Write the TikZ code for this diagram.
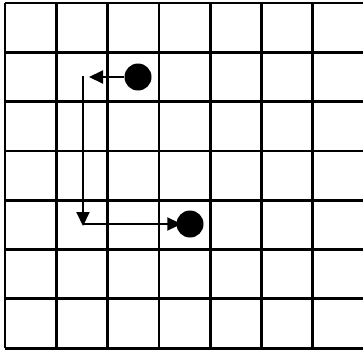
\documentclass[tikz,border=0pt]{standalone}
\usetikzlibrary{arrows.meta}
\begin{document}
\begin{tikzpicture}[x=1pt,y=-1pt,
  gridline/.style={line width=2.8pt,black},
  dot/.style={circle,fill=black,inner sep=0pt,minimum size=27pt},
  conn/.style={line width=2pt,-{Triangle[length=14pt,width=13pt]}}]
\useasboundingbox (0,0) rectangle (363,351);
\begin{scope}
\clip (0,0) rectangle (363,351);
\foreach \i in {0,...,7} {
  \draw[gridline] ({5+51.3*\i},3) -- ({5+51.3*\i},348);
}
\foreach \j in {0,...,7} {
  \draw[gridline] (5,{3+49.3*\j}) -- (370,{3+49.3*\j});
}
\end{scope}
\node[dot] (c1) at (138,77) {};
\node[dot] (c2) at (190,224) {};
\coordinate (a1) at (89,77);
\coordinate (top) at (83,76);
\coordinate (bot) at (83,226);
\coordinate (corner) at (83,224);
\draw[conn] (c1.west) -- (a1);
\draw[conn] (top) -- (bot);
\draw[conn,shorten >=-5pt] (corner) -- (c2.west);
\end{tikzpicture}
\end{document}
